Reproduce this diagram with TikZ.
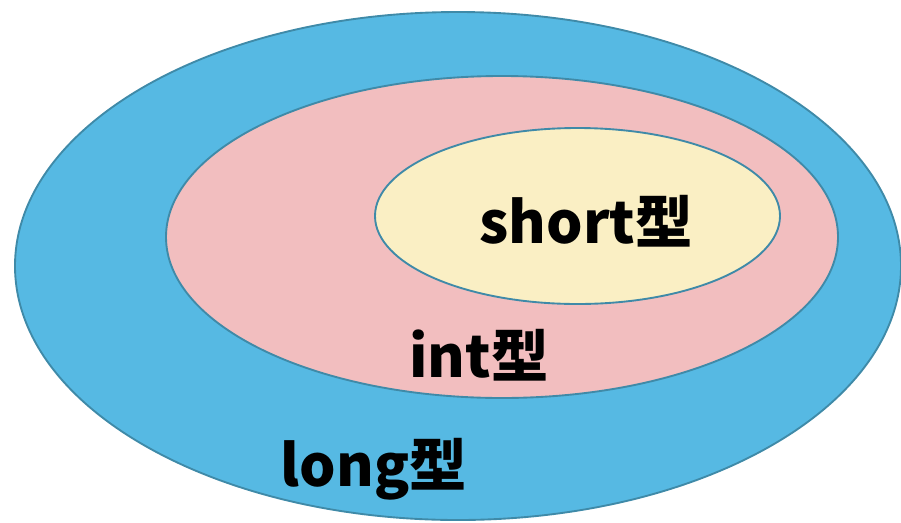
\documentclass[tikz,border=0pt]{standalone}
\usepackage{fontspec}
\newfontfamily\typefont{Noto Sans CJK JP}
\usetikzlibrary{positioning}
\definecolor{longblue}{HTML}{56B9E3}
\definecolor{intpink}{HTML}{F2BEBF}
\definecolor{shortyellow}{HTML}{FAEFC4}
\definecolor{rimblue}{HTML}{3F8AA8}

\begin{document}
\begin{tikzpicture}[x=0.03cm, y=-0.03cm,
  set/.style={draw=rimblue, line width=1.6pt},
  typename/.style={font=\typefont\bfseries\fontsize{49}{49}\selectfont, inner sep=0pt}]
\useasboundingbox (0,0) rectangle (901,522);
% nested ranges
\draw[set, fill=longblue] (458,266) ellipse [x radius=443, y radius=254];
\draw[set, fill=intpink] (502,237) ellipse [x radius=336, y radius=161];
\draw[set, fill=shortyellow] (577.5,216) ellipse [x radius=202.5, y radius=88];
% labels
\node[typename] (short) at (586,221) {short型};
\node[typename] (int) at (479,355) {int型};
\node[typename] (long) at (374,469) {long型};
\end{tikzpicture}
\end{document}
